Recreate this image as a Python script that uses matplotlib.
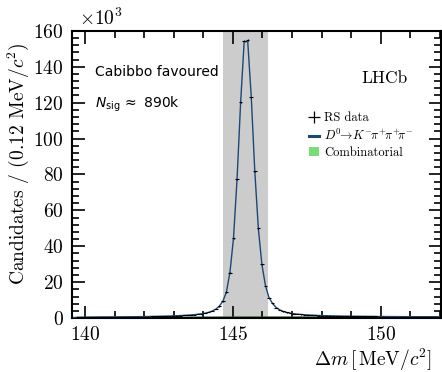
"""
Delta m distribution for the Cabibbo favoured D0 -> K pi pi pi sample.
"""
import numpy as np
import matplotlib
matplotlib.use("Agg")
import matplotlib.pyplot as plt
from matplotlib.patches import Patch
from matplotlib.lines import Line2D
from matplotlib.ticker import MultipleLocator

# Binning: 0.12 MeV bins starting at the pion mass threshold
bin_lo = 139.56
bin_width = 0.12

# RS data, candidates per bin (in thousands)
rs_counts = [
    0.20, 0.35, 0.40, 0.45, 0.50, 0.50, 0.55, 0.55, 0.60, 0.60,
    0.60, 0.65, 0.65, 0.70, 0.70, 0.70, 0.75, 0.75, 0.80, 0.80,
    0.85, 0.85, 0.90, 0.95, 1.00, 1.05, 1.10, 1.15, 1.20, 1.30,
    1.40, 1.50, 1.60, 1.75, 1.90, 2.10, 2.35, 2.70, 3.20, 3.90,
    4.90, 6.50, 9.30, 14.3, 25.3, 44.4, 77.3, 120.2, 154.5, 155.0,
    123.0, 81.9, 50.0, 29.9, 18.0, 11.3, 8.20, 5.80, 4.50, 3.70,
    3.10, 2.70, 2.40, 2.20, 2.00, 1.85, 1.70, 1.60, 1.50, 1.40,
    1.35, 1.30, 1.25, 1.20, 1.15, 1.10, 1.08, 1.05, 1.02, 1.00,
    0.98, 0.96, 0.94, 0.92, 0.90, 0.88, 0.86, 0.85, 0.84, 0.83,
    0.82, 0.81, 0.80, 0.79, 0.78, 0.77, 0.76, 0.75, 0.74, 0.73,
    0.72, 0.71, 0.70, 0.70,
]

# Total fit (signal + combinatorial), same bins
fit_counts = [
    0.20, 0.33, 0.40, 0.45, 0.49, 0.51, 0.54, 0.56, 0.58, 0.60,
    0.61, 0.63, 0.65, 0.67, 0.69, 0.71, 0.73, 0.75, 0.78, 0.80,
    0.83, 0.86, 0.89, 0.93, 0.98, 1.03, 1.08, 1.14, 1.21, 1.29,
    1.38, 1.48, 1.60, 1.74, 1.91, 2.11, 2.37, 2.71, 3.18, 3.88,
    4.95, 6.60, 9.40, 14.5, 25.5, 44.6, 77.5, 120.0, 153.8, 154.2,
    123.2, 81.7, 49.8, 29.8, 18.1, 11.4, 8.10, 5.90, 4.55, 3.70,
    3.10, 2.70, 2.40, 2.18, 2.00, 1.85, 1.72, 1.61, 1.51, 1.43,
    1.36, 1.30, 1.25, 1.20, 1.16, 1.12, 1.08, 1.05, 1.02, 1.00,
    0.98, 0.96, 0.94, 0.92, 0.90, 0.88, 0.86, 0.85, 0.84, 0.83,
    0.82, 0.81, 0.80, 0.79, 0.78, 0.77, 0.76, 0.75, 0.74, 0.73,
    0.72, 0.71, 0.70, 0.70,
]

# Combinatorial background component (thousands)
comb_counts = [
    0.05, 0.09, 0.11, 0.13, 0.14, 0.15, 0.16, 0.17, 0.18, 0.18,
    0.19, 0.20, 0.20, 0.21, 0.21, 0.22, 0.22, 0.23, 0.23, 0.24,
    0.24, 0.24, 0.25, 0.25, 0.26, 0.26, 0.26, 0.27, 0.27, 0.27,
    0.28, 0.28, 0.28, 0.29, 0.29, 0.29, 0.30, 0.30, 0.30, 0.30,
    0.31, 0.31, 0.31, 0.31, 0.32, 0.32, 0.32, 0.32, 0.33, 0.33,
    0.33, 0.33, 0.34, 0.34, 0.34, 0.34, 0.34, 0.35, 0.35, 0.35,
    0.35, 0.35, 0.36, 0.36, 0.36, 0.36, 0.36, 0.37, 0.37, 0.37,
    0.37, 0.37, 0.37, 0.38, 0.38, 0.38, 0.38, 0.38, 0.38, 0.39,
    0.39, 0.39, 0.39, 0.39, 0.39, 0.40, 0.40, 0.40, 0.40, 0.40,
    0.40, 0.40, 0.41, 0.41, 0.41, 0.41, 0.41, 0.41, 0.41, 0.42,
    0.42, 0.42, 0.42, 0.42,
]

# Signal window shown as grey band
window = (144.65, 146.2)

plt.rcParams["font.family"] = "serif"
plt.rcParams["font.serif"] = ["cmr10", "DejaVu Serif"]
plt.rcParams["mathtext.fontset"] = "cm"
plt.rcParams["axes.formatter.use_mathtext"] = True
plt.rcParams["axes.unicode_minus"] = False

n_bins = len(rs_counts)
centers = bin_lo + bin_width * (np.arange(n_bins) + 0.5)
rs = np.array(rs_counts)
yerr = np.sqrt(rs * 1000.0) / 1000.0

fig = plt.figure(figsize=(4.42, 3.72), dpi=100)
ax = fig.add_axes([0.163, 0.145, 0.835, 0.772])

ax.axvspan(window[0], window[1], color="#cccccc", lw=0, zorder=0)

ax.fill_between(centers, 0, comb_counts, color="#77dd77", lw=0, zorder=1)
ax.plot(centers, comb_counts, color="#1d5e1d", lw=1.5, zorder=2)
ax.plot(centers, fit_counts, color="#1b4779", lw=1.0, zorder=3)
ax.errorbar(centers, rs, xerr=bin_width / 2, yerr=yerr, fmt="none",
            ecolor="black", elinewidth=0.8, zorder=4)

ax.set_xlim(bin_lo, bin_lo + bin_width * n_bins)
ax.set_ylim(0, 160)

# Ticks on all sides, pointing in
ax.xaxis.set_major_locator(MultipleLocator(5))
ax.xaxis.set_minor_locator(MultipleLocator(1))
ax.yaxis.set_major_locator(MultipleLocator(20))
ax.yaxis.set_minor_locator(MultipleLocator(4))
ax.tick_params(which="both", direction="in", top=True, right=True,
               width=1.2, labelsize=14)
ax.tick_params(which="major", length=9, pad=6)
ax.tick_params(which="minor", length=5)
for sp in ax.spines.values():
    sp.set_linewidth(1.5)

ax.set_ylabel(r"Candidates / (0.12 MeV/$c^2$)", fontsize=14)
ax.yaxis.set_label_coords(-0.111, 0.537)
ax.set_xlabel(r"$\Delta m\,[\,\mathrm{MeV}/c^2]$", fontsize=14, loc="right")
ax.xaxis.set_label_coords(0.976, -0.1)
ax.text(0.02, 1.005, r"$\times10^3$", transform=ax.transAxes,
        fontsize=14, ha="left", va="bottom")

# Annotations
ax.text(0.062, 0.857, "Cabibbo favoured", transform=ax.transAxes,
        family="DejaVu Sans", fontsize=10, va="center")
ax.text(0.062, 0.745, r"$N_{\mathrm{sig}}\,\approx$ 890k",
        transform=ax.transAxes, family="DejaVu Sans",
        math_fontfamily="dejavusans", fontsize=10, va="center")
ax.text(0.91, 0.836, "LHCb", transform=ax.transAxes, fontsize=12.5,
        ha="right", va="center")

handles = [
    Line2D([], [], color="black", marker="+", ls="none", markersize=8,
           markeredgewidth=0.9),
    Line2D([], [], color="#1b4779", lw=2.2),
    Patch(facecolor="#77dd77", edgecolor="none"),
]
labels = ["RS data",
          r"$D^0\!\!\to\! K^{-}\!\pi^{+}\!\pi^{+}\!\pi^{-}$",
          "Combinatorial"]
ax.legend(handles, labels, loc="upper left", bbox_to_anchor=(0.628, 0.735),
          frameon=False, fontsize=9, handlelength=0.8, handletextpad=0.4,
          labelspacing=0.3, borderaxespad=0)

fig.savefig("out.png", dpi=100)
